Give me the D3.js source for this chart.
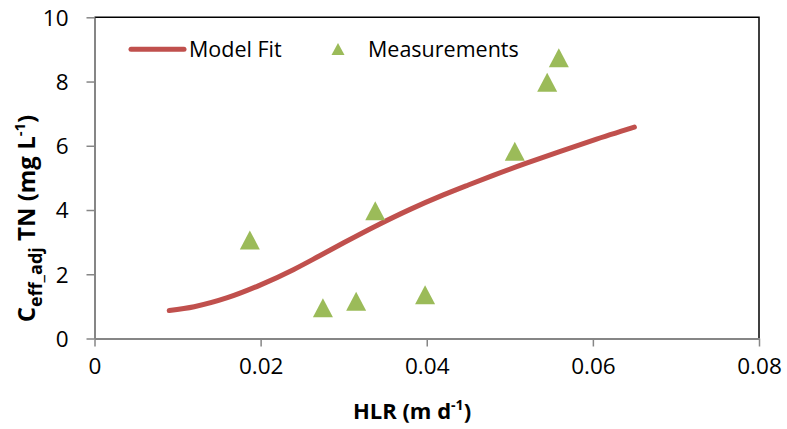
<!DOCTYPE html>
<html>
<head>
<meta charset="utf-8">
<script src="https://cdn.jsdelivr.net/npm/d3@7"></script>
<style>
  body { margin: 0; background: #fff; }
  svg text { font-family: 'Open Sans', sans-serif; fill: #000; }
</style>
</head>
<body>
<svg id="chart" width="787" height="429"></svg>
<script>
// Axis ticks
const xTicks = [0, 0.02, 0.04, 0.06, 0.08];
const xTickLabels = ["0", "0.02", "0.04", "0.06", "0.08"];
const yTicks = [0, 2, 4, 6, 8, 10];
const yTickLabels = ["0", "2", "4", "6", "8", "10"];

// Model fit curve (HLR in m/d, effluent TN in mg/L)
const fitHLR = [0.009, 0.012, 0.016, 0.020, 0.024, 0.027, 0.030, 0.034, 0.038, 0.042, 0.045, 0.048, 0.052, 0.056, 0.060, 0.065];
const fitTN  = [0.87, 0.99, 1.27, 1.67, 2.15, 2.56, 2.98, 3.52, 4.02, 4.47, 4.78, 5.08, 5.46, 5.82, 6.17, 6.58];

// Measured values
const measHLR = [0.0187, 0.0275, 0.0315, 0.0338, 0.0398, 0.0506, 0.0545, 0.0559];
const measTN  = [3.07, 0.96, 1.16, 3.98, 1.36, 5.83, 7.98, 8.74];

const plot = { left: 94.5, top: 17.3, right: 759, bottom: 338.5 };

const svg = d3.select("#chart");

const x = d3.scaleLinear().domain([0, 0.08]).range([plot.left, plot.right]);
const y = d3.scaleLinear().domain([0, 10]).range([plot.bottom, plot.top]);

// Plot-area frame (top and right edges)
svg.append("path")
  .attr("d", `M${plot.left},${plot.top}H${plot.right}V${plot.bottom}`)
  .attr("fill", "none").attr("stroke", "#000").attr("stroke-width", 1.5);

// X axis
const xAxis = svg.append("g")
  .attr("transform", `translate(0,${plot.bottom})`)
  .call(d3.axisBottom(x).tickValues(xTicks)
    .tickFormat((d, i) => xTickLabels[i]).tickSize(8).tickPadding(12).tickSizeOuter(0));
// Y axis
const yAxis = svg.append("g")
  .attr("transform", `translate(${plot.left},0)`)
  .call(d3.axisLeft(y).tickValues(yTicks)
    .tickFormat((d, i) => yTickLabels[i]).tickSize(8).tickPadding(18).tickSizeOuter(0));

[xAxis, yAxis].forEach(g => {
  g.select(".domain").attr("stroke", "#868686").attr("stroke-width", 2);
  g.selectAll(".tick line").attr("stroke", "#868686").attr("stroke-width", 1.5);
  g.selectAll(".tick text").attr("font-size", 22.5).attr("font-family", "'Open Sans', sans-serif").attr("fill", "#000");
});
yAxis.selectAll(".tick text").attr("dy", "0.35em");

// Model fit line
const fitData = fitHLR.map((v, i) => [v, fitTN[i]]);
svg.append("path")
  .datum(fitData)
  .attr("fill", "none")
  .attr("stroke", "#C0504D")
  .attr("stroke-width", 5)
  .attr("stroke-linecap", "round")
  .attr("stroke-linejoin", "round")
  .attr("d", d3.line().x(d => x(d[0])).y(d => y(d[1])).curve(d3.curveMonotoneX));

// Measurement triangles
const tri = (w, h) => `M0,${-h / 2}L${w / 2},${h / 2}L${-w / 2},${h / 2}Z`;
svg.append("g").selectAll("path")
  .data(measHLR.map((v, i) => [v, measTN[i]]))
  .join("path")
  .attr("d", tri(20, 19))
  .attr("transform", d => `translate(${x(d[0])},${y(d[1])})`)
  .attr("fill", "#9BBB59");

// Legend
const lg = svg.append("g");
lg.append("line").attr("x1", 131).attr("x2", 184).attr("y1", 49.3).attr("y2", 49.3)
  .attr("stroke", "#C0504D").attr("stroke-width", 5).attr("stroke-linecap", "round");
lg.append("text").attr("x", 189).attr("y", 57).attr("font-size", 21.5).text("Model Fit");
lg.append("path").attr("d", tri(13, 12)).attr("transform", "translate(338,49)").attr("fill", "#9BBB59");
lg.append("text").attr("x", 368).attr("y", 57).attr("font-size", 21.5).text("Measurements");

// Axis titles
const xt = svg.append("text")
  .attr("x", 412).attr("y", 419)
  .attr("text-anchor", "middle")
  .attr("font-size", 22).attr("font-weight", "bold");
xt.append("tspan").text("HLR (m d");
xt.append("tspan").attr("font-size", 14).attr("dy", -9).text("-1");
xt.append("tspan").attr("dy", 9).text(")");

const yt = svg.append("text")
  .attr("transform", "translate(35,218.5) rotate(-90)")
  .attr("text-anchor", "middle")
  .attr("font-size", 24).attr("font-weight", "bold");
yt.append("tspan").text("C");
yt.append("tspan").attr("font-size", 18).attr("dy", 7).text("eff_adj");
yt.append("tspan").attr("dy", -7).text(" TN (mg L");
yt.append("tspan").attr("font-size", 15).attr("dy", -10).text("-1");
yt.append("tspan").attr("dy", 10).text(")");
</script>
</body>
</html>
